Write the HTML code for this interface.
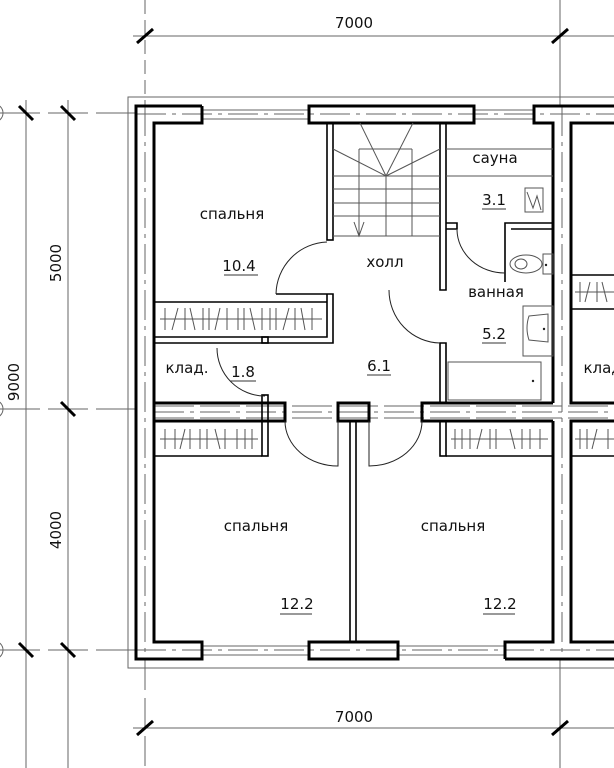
<!DOCTYPE html>
<html><head><meta charset="utf-8"><style>
html,body{margin:0;padding:0;background:#fff;}
svg{display:block;}
text{font-family:"DejaVu Sans","Liberation Sans",sans-serif;fill:#111;}
</style></head><body>
<svg width="614" height="768" viewBox="0 0 614 768" xmlns="http://www.w3.org/2000/svg">
<rect width="614" height="768" fill="#fff"/>
<!-- dimension lines -->
<g stroke="#666" stroke-width="1" fill="none">
  <line x1="145" y1="0" x2="145" y2="106" stroke-dasharray="14,6"/>
  <line x1="560" y1="0" x2="560" y2="106"/>
  <line x1="133" y1="36" x2="614" y2="36"/>
  <line x1="145" y1="660" x2="145" y2="768" stroke-dasharray="30,8"/>
  <line x1="560" y1="660" x2="560" y2="768"/>
  <line x1="133" y1="728" x2="614" y2="728"/>
  <line x1="0" y1="113" x2="136" y2="113" stroke-dasharray="40,8"/>
  <line x1="0" y1="409" x2="136" y2="409" stroke-dasharray="40,8"/>
  <line x1="0" y1="650" x2="136" y2="650" stroke-dasharray="40,8"/>
  <line x1="26" y1="100" x2="26" y2="768"/>
  <line x1="68" y1="100" x2="68" y2="768"/>
  <circle cx="-6" cy="113" r="9"/>
  <circle cx="-6" cy="409" r="9"/>
  <circle cx="-6" cy="650" r="9"/>
  <!-- thin outer outline -->
  <polyline points="614,97 128,97 128,668 614,668"/>
  <!-- axis dashes in walls -->
  <line x1="145" y1="106" x2="145" y2="660" stroke-dasharray="30,6,4,6"/>
  <line x1="136" y1="114" x2="614" y2="114" stroke-dasharray="30,6,4,6"/>
  <line x1="136" y1="650" x2="614" y2="650" stroke-dasharray="30,6,4,6"/>
  <line x1="154" y1="412" x2="614" y2="412" stroke-dasharray="30,6,4,6"/>
  <line x1="562" y1="106" x2="562" y2="660" stroke-dasharray="30,6,4,6"/>
</g>
<g stroke="#000" stroke-width="3">
  <line x1="137" y1="43" x2="153" y2="29"/>
  <line x1="552" y1="43" x2="568" y2="29"/>
  <line x1="137" y1="735" x2="153" y2="721"/>
  <line x1="552" y1="735" x2="568" y2="721"/>
  <line x1="19" y1="106" x2="33" y2="120"/>
  <line x1="61" y1="106" x2="75" y2="120"/>
  <line x1="61" y1="402" x2="75" y2="416"/>
  <line x1="19" y1="643" x2="33" y2="657"/>
  <line x1="61" y1="643" x2="75" y2="657"/>
</g>
<text x="354" y="28" font-size="15" text-anchor="middle">7000</text>
<text x="354" y="722" font-size="15" text-anchor="middle">7000</text>
<text transform="translate(61,263) rotate(-90)" font-size="15" text-anchor="middle">5000</text>
<text transform="translate(19,382) rotate(-90)" font-size="15" text-anchor="middle">9000</text>
<text transform="translate(61,530) rotate(-90)" font-size="15" text-anchor="middle">4000</text>

<!-- windows thin lines -->
<g stroke="#666" stroke-width="1">
  <line x1="202" y1="110" x2="309" y2="110"/><line x1="202" y1="119" x2="309" y2="119"/>
  <line x1="474" y1="110" x2="534" y2="110"/><line x1="474" y1="119" x2="534" y2="119"/>
  <line x1="202" y1="646" x2="309" y2="646"/><line x1="202" y1="655" x2="309" y2="655"/>
  <line x1="398" y1="646" x2="505" y2="646"/><line x1="398" y1="655" x2="505" y2="655"/>
  <line x1="154" y1="406" x2="614" y2="406" stroke-dasharray="40,6"/>
  <line x1="154" y1="418" x2="614" y2="418" stroke-dasharray="40,6"/>
</g>

<!-- thick walls -->
<g stroke="#000" stroke-width="3" fill="none">
  <!-- outer left unit -->
  <polyline points="202,106 136,106 136,659 202,659 202,642 154,642 154,123 202,123 202,106"/>
  <rect x="309" y="106" width="165" height="17"/>
  <rect x="309" y="642" width="89" height="17"/>
  <polyline points="614,106 534,106 534,123 553,123 553,403"/>
  <polyline points="505,659 614,659"/>
  <polyline points="505,659 505,642 553,642 553,421"/>
  <!-- neighbor -->
  <polyline points="614,123 571,123 571,403 614,403"/>
  <polyline points="614,421 571,421 571,642 614,642"/>
  <!-- middle wall -->
  <polyline points="154,403 285,403 285,421 154,421"/>
  <rect x="338" y="403" width="31" height="18"/>
  <polyline points="553,403 422,403 422,421 553,421"/>
</g>
<!-- thin partitions -->
<g stroke="#000" stroke-width="1.6" fill="none">
  <rect x="350" y="421" width="6" height="221"/>
  <!-- lower wardrobes -->
  <line x1="154" y1="456" x2="262" y2="456"/>
  <rect x="262" y="395" width="6" height="61"/>
  <line x1="446" y1="456" x2="553" y2="456"/>
  <rect x="440" y="421" width="6" height="35"/>
  <!-- stair walls -->
  <rect x="327" y="123" width="6" height="117"/>
  <polyline points="440,123 440,290 446,290 446,123"/>
  <polyline points="440,403 440,343 446,343 446,403"/>
  <!-- upper wardrobe -->
  <polyline points="276,294 333,294 333,343 154,343"/>
  <polyline points="327,294 327,337 154,337"/>
  <line x1="154" y1="302" x2="327" y2="302"/>
  <!-- closet door stub -->
  <rect x="262" y="337" width="6" height="6"/>
  <!-- bathroom walls -->
  <polyline points="446,223 457,223 457,229 446,229"/>
  <polyline points="553,223 505,223 505,282"/>
  <line x1="511" y1="229" x2="553" y2="229"/>
  <!-- neighbor wardrobe -->
  <line x1="571" y1="275" x2="614" y2="275"/>
  <line x1="571" y1="309" x2="614" y2="309"/>
  <line x1="571" y1="456" x2="614" y2="456"/>
</g>
<!-- doors -->
<g stroke="#222" stroke-width="1" fill="none">
  <path d="M285,421 A53,45 0 0 0 338,466 L338,421"/>
  <path d="M422,421 A53,45 0 0 1 369,466 L369,421"/>
  <path d="M327,242 A53,53 0 0 0 276,294"/>
  <path d="M389,290 A52,53 0 0 0 440,343"/>
  <path d="M217,348 A48,48 0 0 0 265,396"/>
  <path d="M457,230 A48,44 0 0 0 505,273"/>
</g>
<!-- stairs -->
<g stroke="#555" stroke-width="1" fill="none">
  <line x1="359" y1="149" x2="359" y2="236"/>
  <line x1="386" y1="176" x2="386" y2="236"/>
  <line x1="412" y1="149" x2="412" y2="236"/>
  <line x1="359" y1="149" x2="412" y2="149"/>
  <line x1="333" y1="176" x2="440" y2="176"/>
  <line x1="333" y1="189" x2="440" y2="189"/>
  <line x1="333" y1="203" x2="440" y2="203"/>
  <line x1="333" y1="216" x2="440" y2="216"/>
  <line x1="333" y1="236" x2="440" y2="236"/>
  <line x1="360" y1="123" x2="386" y2="176"/>
  <line x1="413" y1="123" x2="386" y2="176"/>
  <line x1="333" y1="149" x2="386" y2="176"/>
  <line x1="440" y1="149" x2="386" y2="176"/>
  <polyline points="354,222 359,236 364,222"/>
  <!-- sauna -->
  <line x1="446" y1="149" x2="553" y2="149"/>
  <line x1="446" y1="176" x2="553" y2="176"/>
  <rect x="525" y="188" width="18" height="24"/>
  <polyline points="527,192 533,208 537,196 541,210"/>
  <!-- toilet -->
  <rect x="543" y="254" width="10" height="20"/>
  <ellipse cx="526" cy="264" rx="16" ry="9"/>
  <ellipse cx="521" cy="264" rx="6" ry="5"/>
  <!-- sink -->
  <rect x="523" y="306" width="30" height="50"/>
  <path d="M529,316 L548,314 L548,342 L529,340 Q525,328 529,316Z"/>
  <!-- bath -->
  <rect x="448" y="362" width="93" height="38"/>
  <!-- hatch lines -->
  <line x1="160" y1="319" x2="322" y2="319"/>
  <line x1="160" y1="439" x2="258" y2="439"/>
  <line x1="451" y1="439" x2="548" y2="439"/>
  <line x1="575" y1="292" x2="614" y2="292"/>
  <line x1="575" y1="439" x2="614" y2="439"/>
  <path d="M165,308 l0,22 M172,330 l6,-22 M185,308 l0,22 M190,308 l5,22 M203,308 l0,22 M209,308 l0,22 M215,330 l5,-22 M227,308 l0,22 M238,308 l0,22 M244,308 l0,22 M250,308 l5,22 M262,308 l0,22 M270,308 l0,22 M276,308 l0,22 M283,330 l6,-22 M295,308 l0,22 M301,308 l4,22 M312,308 l0,22"/>
  <path d="M165,429 l0,20 M175,429 l0,20 M180,449 l5,-20 M190,429 l0,20 M200,429 l0,20 M207,429 l0,20 M215,429 l5,20 M225,429 l0,20 M237,429 l0,20 M245,429 l0,20 M252,429 l0,20"/>
  <path d="M455,429 l0,20 M462,429 l0,20 M470,429 l0,20 M477,449 l5,-20 M490,429 l0,20 M496,429 l0,20 M510,429 l5,20 M522,429 l0,20 M530,429 l0,20 M540,429 l0,20"/>
  <path d="M580,282 l0,20 M585,302 l5,-20 M597,282 l0,20 M602,282 l5,20 M580,429 l0,20 M587,429 l0,20 M592,449 l5,-20 M608,429 l0,20"/>
</g>
<g fill="#222"><circle cx="546" cy="265" r="1.2"/><circle cx="544" cy="329" r="1.2"/><circle cx="533" cy="381" r="1.2"/></g>
<!-- labels -->
<g font-size="15" text-anchor="middle">
  <text x="232" y="219">спальня</text>
  <text x="239" y="271">10.4</text>
  <text x="385" y="267">холл</text>
  <text x="495" y="163">сауна</text>
  <text x="494" y="205">3.1</text>
  <text x="496" y="297">ванная</text>
  <text x="494" y="339">5.2</text>
  <text x="187" y="373">клад.</text>
  <text x="243" y="377">1.8</text>
  <text x="379" y="371">6.1</text>
  <text x="256" y="531">спальня</text>
  <text x="453" y="531">спальня</text>
  <text x="297" y="609">12.2</text>
  <text x="500" y="609">12.2</text>
  <text x="605" y="373">клад.</text>
</g>
<g stroke="#333" stroke-width="1">
  <line x1="224" y1="275" x2="258" y2="275"/>
  <line x1="482" y1="209" x2="506" y2="209"/>
  <line x1="482" y1="343" x2="506" y2="343"/>
  <line x1="230" y1="381" x2="256" y2="381"/>
  <line x1="367" y1="375" x2="391" y2="375"/>
  <line x1="280" y1="614" x2="312" y2="614"/>
  <line x1="483" y1="614" x2="515" y2="614"/>
</g>
</svg>
</body></html>
